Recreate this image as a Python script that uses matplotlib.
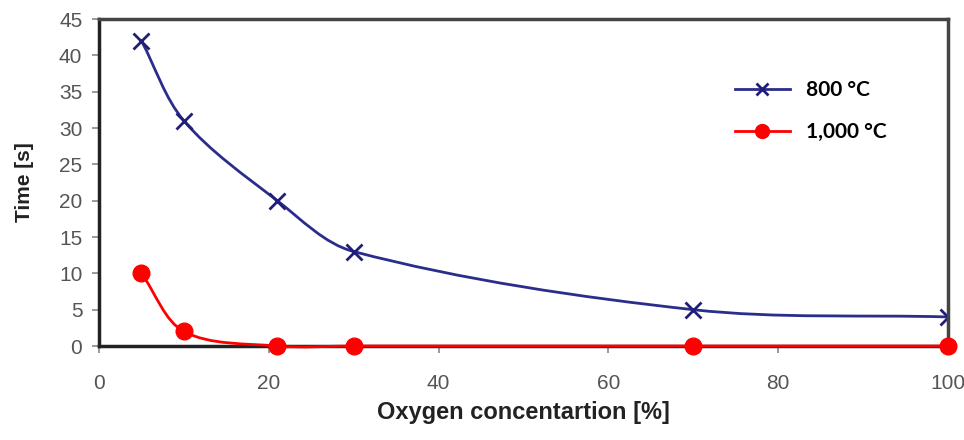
import numpy as np
import matplotlib.pyplot as plt
from matplotlib.path import Path
from matplotlib.patches import PathPatch

# data
oxygen = [5, 10, 21, 30, 70, 100]
time_800 = [42, 31, 20, 13, 5, 4]
time_1000 = [10, 2, 0, 0, 0, 0]
x_ticks = [0, 20, 40, 60, 80, 100]
y_ticks = [0, 5, 10, 15, 20, 25, 30, 35, 40, 45]


def smooth_path(ax, xs, ys):
    # smoothed line like a spreadsheet chart, worked out in screen space
    to_px = ax.transData
    back = ax.transData.inverted()
    pts = to_px.transform(list(zip(xs, ys)))
    n = len(pts)
    seg = [np.hypot(*(pts[i + 1] - pts[i])) for i in range(n - 1)]
    tang = []
    for i in range(n):
        if i == 0:
            t = (pts[1] - pts[0]) / seg[0]
        elif i == n - 1:
            t = (pts[-1] - pts[-2]) / seg[-1]
        else:
            t = (pts[i + 1] - pts[i - 1]) / (seg[i - 1] + seg[i])
        tang.append(t)
    verts = [pts[0]]
    codes = [Path.MOVETO]
    for i in range(n - 1):
        d = seg[i] / 3
        verts += [pts[i] + tang[i] * d, pts[i + 1] - tang[i + 1] * d,
                  pts[i + 1]]
        codes += [Path.CURVE4] * 3
    return Path(back.transform(verts), codes)


blue = '#2b2d8c'
red = '#ff0000'

fig = plt.figure(figsize=(9.64, 4.4), dpi=100)
ax = fig.add_axes([0.1027, 0.2136, 0.8807, 0.7432])
ax.set_xlim(0, 100)
ax.set_ylim(0, 45)

ax.add_patch(PathPatch(smooth_path(ax, oxygen, time_800), fill=False,
                       edgecolor=blue, lw=2))
ax.add_patch(PathPatch(smooth_path(ax, oxygen, time_1000), fill=False,
                       edgecolor=red, lw=2, clip_on=False, zorder=4))
ax.plot(oxygen, time_800, ls='none', marker='x', ms=11, mew=2,
        color='#1f1f7a')
ax.plot(oxygen, time_1000, ls='none', marker='o', ms=12, color=red,
        clip_on=False, zorder=5)

# legend handles
ax.plot([], [], color=blue, lw=2, marker='x', ms=9, mew=2,
        mec='#1f1f7a', label='800 °C')
ax.plot([], [], color=red, lw=2, marker='o', ms=10, label='1,000 °C')
ax.legend(loc='upper right', bbox_to_anchor=(0.95, 0.87), frameon=False,
          prop={'family': 'Lato', 'weight': 'bold', 'size': 15},
          handlelength=2.6, labelspacing=1.05, handletextpad=0.8)

ax.set_xticks(x_ticks)
ax.set_yticks(y_ticks)
ax.tick_params(direction='out', length=5, width=1.2, color='#888888',
               labelcolor='#555555', labelsize=15)
ax.tick_params(axis='x', pad=15)
ax.tick_params(axis='y', pad=7)
for lab in ax.get_xticklabels() + ax.get_yticklabels():
    lab.set_family('Liberation Sans')

for side in ['left', 'bottom']:
    ax.spines[side].set_linewidth(2.5)
    ax.spines[side].set_color('#222222')
for side in ['top', 'right']:
    ax.spines[side].set_linewidth(2.5)
    ax.spines[side].set_color('#444444')

ax.set_xlabel('Oxygen concentartion [%]', fontsize=17, fontweight='bold',
              family='Liberation Sans', color='#222222', labelpad=6)
ax.set_ylabel('Time [s]', fontsize=15, fontweight='bold',
              family='Liberation Sans', color='#222222', labelpad=18)

fig.savefig('out.png', dpi=100)
